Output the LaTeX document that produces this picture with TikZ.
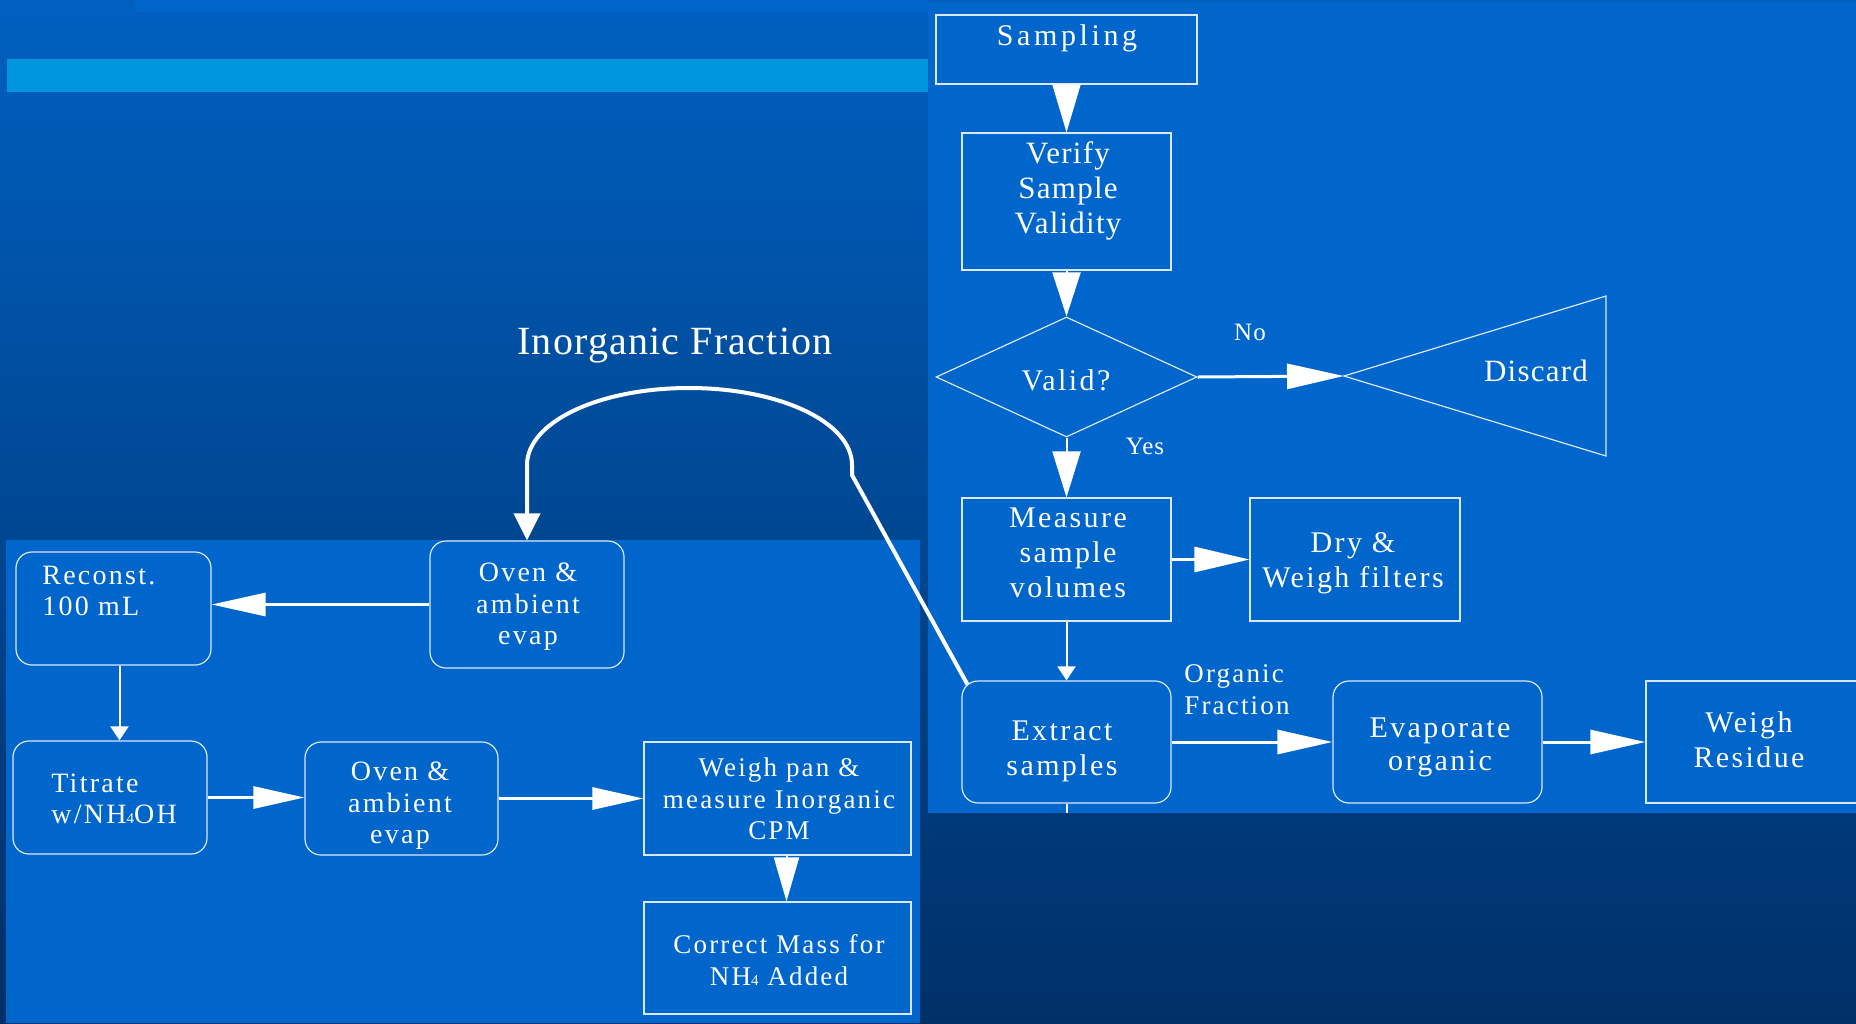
\documentclass[tikz,border=0pt]{standalone}
\usepackage{fontspec}
\setmainfont{Liberation Serif}
\newfontfamily\lsfont[LetterSpace=8]{Liberation Serif}
\newfontfamily\lswide[LetterSpace=12]{Liberation Serif}
\newfontfamily\lsnarrow[LetterSpace=4]{Liberation Serif}
\newfontfamily\lsthin[LetterSpace=3]{Liberation Serif}
\newcommand{\smallfour}{{\fontsize{7.5}{8}\selectfont 4}}
\usetikzlibrary{arrows.meta,shapes.geometric,calc}
\definecolor{panelblue}{RGB}{0,102,204}
\definecolor{barblue}{RGB}{0,150,222}
\definecolor{stripblue}{RGB}{0,100,200}
\definecolor{bgtop}{RGB}{0,96,192}
\definecolor{bgbot}{RGB}{0,48,104}
\definecolor{edgecol}{RGB}{220,232,248}
\begin{document}
\begin{tikzpicture}[x=0.5pt,y=-0.5pt,
  box/.style={draw=edgecol, line width=0.6pt, inner sep=0pt},
  rbox/.style={box, rounded corners=8pt},
  txt/.style={text=white, inner sep=0pt, align=center},
  fbig/.style={font=\lsfont\fontsize{15}{17.5}\selectfont},
  fsmall/.style={font=\lsfont\fontsize{14}{15.75}\selectfont},
  arr/.style 2 args={draw=white, -{Triangle[length=#1,width=#2]}},
  thinln/.style={line width=1pt},
  medln/.style={line width=1.5pt},
  thickln/.style={line width=2pt}
]
\useasboundingbox (0,0) rectangle (1856,1023);
\clip (0,0) rectangle (1856,1023);
% background
\fill[top color=bgtop, bottom color=bgbot] (0,0) rectangle (1856,1023);
\fill[stripblue] (135,0) rectangle (928,12);
\fill[barblue] (7,59) rectangle (928,92);
\fill[panelblue] (928,3) rectangle (1856,813);
\fill[panelblue] (6,540) rectangle (920,1023);

% right flow boxes
\node[box, minimum width=130.5pt, minimum height=34.5pt] (samp) at (1066.5,49.5) {};
\node[box, minimum width=104.5pt, minimum height=68.5pt] (verify) at (1066.5,201.5) {};
\node[box, diamond, minimum width=130.5pt, minimum height=60pt] (valid) at (1066.5,377) {};
\coordinate (disctip) at (1344,376);
\draw[edgecol, line width=0.6pt] (disctip) -- (1606,296) -- (1606,456) -- cycle;
\node[box, minimum width=104.5pt, minimum height=61.5pt] (meas) at (1066.5,559.5) {};
\node[box, minimum width=105pt, minimum height=61.5pt] (dry) at (1355,559.5) {};
\node[rbox, minimum width=104.5pt, minimum height=61pt] (ext) at (1066.5,742) {};
\node[rbox, minimum width=104.5pt, minimum height=61pt] (evap) at (1437.5,742) {};
\node[box, minimum width=110pt, minimum height=61pt] (wres) at (1756,742) {};
\coordinate (stub) at (1066.5,813);

% left flow boxes
\node[rbox, minimum width=97pt, minimum height=63.5pt] (oven1) at (527,604.5) {};
\node[rbox, minimum width=97.5pt, minimum height=56.5pt] (recon) at (113.5,608.5) {};
\node[rbox, minimum width=97pt, minimum height=56.5pt] (titr) at (110,797.5) {};
\node[rbox, minimum width=96.5pt, minimum height=56.5pt] (oven2) at (401.5,798.5) {};
\node[box, minimum width=133.5pt, minimum height=56.5pt] (wpan) at (777.5,798.5) {};
\node[box, minimum width=133.5pt, minimum height=56pt] (corr) at (777.5,958) {};

% texts right
\node[txt, font=\lswide\fontsize{15}{17.5}\selectfont] (tsamp) at (1067,38) {Sampling};
\node[txt, font=\lsnarrow\fontsize{15.5}{17.5}\selectfont] (tverify) at (1068,191) {Verify\\Sample\\Validity};
\node[txt, fbig] (tvalid) at (1066,380) {Valid?};
\node[txt, font=\lsnarrow\fontsize{12.5}{15}\selectfont] (tno) at (1250,332) {No};
\node[txt, font=\lsnarrow\fontsize{12.5}{15}\selectfont] (tyes) at (1145,446) {Yes};
\node[txt, font=\lsnarrow\fontsize{15.5}{17.5}\selectfont] (tdisc) at (1536,371) {Discard};
\node[txt, fbig] (tmeas) at (1068,553) {Measure\\sample\\volumes};
\node[txt, fbig] (tdry) at (1353,563) {Dry \&\\Weigh filters};
\node[txt, fbig] (text) at (1062,751) {Extract\\samples};
\node[txt, align=left, anchor=west, font=\lsfont\fontsize{13.5}{16}\selectfont] (torg) at (1184,690) {Organic\\Fraction};
\node[txt, font=\lsfont\fontsize{15}{16.5}\selectfont] (tevap) at (1440,747) {Evaporate\\organic};
\node[txt, fbig] (twres) at (1749,740) {Weigh\\Residue};
\node[txt, font=\lsthin\fontsize{20}{24}\selectfont] (tinorg) at (675,346) {Inorganic Fraction};

% texts left
\node[txt, fsmall] (toven1) at (528,607) {Oven \&\\ambient\\evap};
\node[txt, fsmall, align=left, anchor=west] (trecon) at (42,591) {Reconst.\\100 mL};
\node[txt, fsmall, align=left, anchor=west] (ttitr) at (51,799) {Titrate\\w/NH\smallfour OH};
\node[txt, fsmall] (toven2) at (400,806) {Oven \&\\ambient\\evap};
\node[txt, font=\lsfont\fontsize{13.5}{15.75}\selectfont] (twpan) at (779,799) {Weigh pan \&\\measure Inorganic\\CPM};
\node[txt, font=\lsfont\fontsize{13.5}{16}\selectfont] (tcorr) at (779,960) {Correct Mass for\\NH\smallfour\ Added};

% connectors right
\draw[arr={24pt}{14pt}, thinln] (samp.south) -- (verify.north);
\draw[arr={22pt}{14pt}, thinln] (verify.south) -- (valid.north);
\draw[arr={28.5pt}{12.5pt}, medln] (valid.east) -- (disctip);
\draw[arr={23pt}{14pt}, thinln] (valid.south) -- (meas.north);
\draw[arr={27.5pt}{12.5pt}, medln] (meas.east) -- (dry.west);
\draw[arr={7pt}{9pt}, thinln] (meas.south) -- (ext.north);
\draw[arr={27.5pt}{12pt}, medln] (ext.east) -- (evap.west);
\draw[arr={27.5pt}{12pt}, medln] (evap.east) -- (wres.west);
\draw[white, thinln] (ext.south) -- (stub);

% connectors left
\draw[arr={27pt}{11.5pt}, medln] (oven1.west) -- (recon.east |- oven1.west);
\draw[arr={7pt}{9pt}, thinln] ($(recon.south)+(6,0)$) -- ($(recon.south |- titr.north)+(6,0)$);
\draw[arr={25.5pt}{11pt}, medln] (titr.east) -- (oven2.west |- titr.east);
\draw[arr={25.5pt}{11pt}, medln] (oven2.east) -- (wpan.west |- oven2.east);
\draw[arr={22pt}{12.5pt}, thinln] ($(wpan.south)+(9,0)$) -- ($(corr.north)+(9,0)$);

% inorganic fraction loop
\draw[arr={13.5pt}{13pt}, thickln] ($(ext.north west)+(6,4)$) -- (852,475) -- (852,465)
  .. controls (852,422) and (779,388) .. (689,388)
  .. controls (599,388) and (527,422) .. (527,465) -- (oven1.north);
\end{tikzpicture}
\end{document}
